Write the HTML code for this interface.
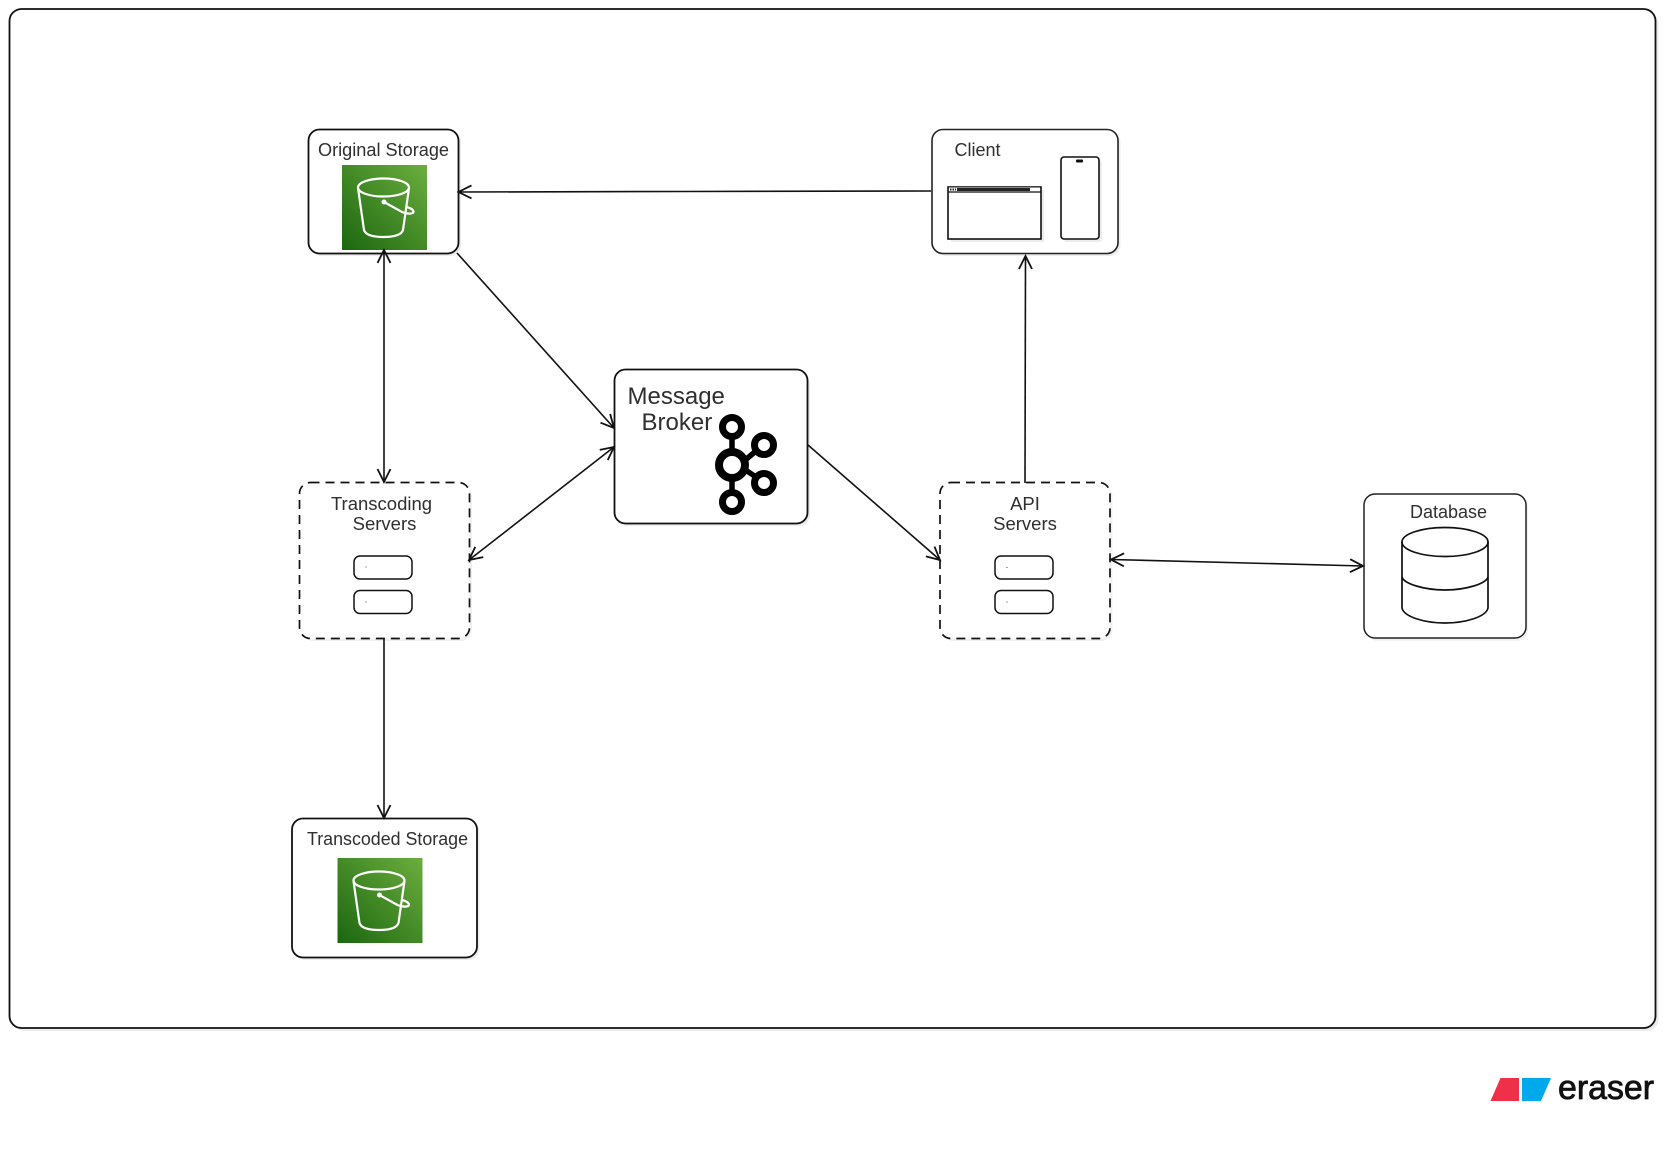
<!DOCTYPE html>
<html>
<head>
<meta charset="utf-8">
<style>
html,body{margin:0;padding:0;background:#fff;}
svg{display:block;}
text{font-family:"Liberation Sans",sans-serif;fill:#2f2f2f;}
</style>
</head>
<body>
<svg width="1665" height="1173" viewBox="0 0 1665 1173" xmlns="http://www.w3.org/2000/svg">
<defs>
<linearGradient id="g" x1="0" y1="1" x2="1" y2="0">
<stop offset="0" stop-color="#1b660f"/>
<stop offset="1" stop-color="#6cae3e"/>
</linearGradient>
<marker id="a" markerUnits="userSpaceOnUse" viewBox="-16 -9 18 18" refX="0" refY="0" markerWidth="18" markerHeight="18" orient="auto-start-reverse">
<path d="M-13 -6.500L0 0L-13 6.500" fill="none" stroke="#111" stroke-width="1.8"/>
</marker>
<g id="bucket">
<rect x="0" y="0" width="85" height="85" fill="url(#g)"/>
<g fill="none" stroke="#fff" stroke-width="2.200">
<ellipse cx="41.500" cy="22.500" rx="25.500" ry="9"/>
<path d="M16 23L22 65C24 71 33 72 41.500 72C50 72 59 71 61 65L67 23"/>
<path d="M42 37L60 47C66 49.500 72 49 71.500 46.500C71 44 67 42.500 64 42"/>
</g>
<circle cx="42" cy="37" r="2.500" fill="#fff"/>
</g>
</defs>

<!-- outer frame -->
<rect x="12.500" y="12" width="1646" height="1019" rx="12" fill="#ececec"/>
<rect x="9.500" y="9" width="1646" height="1019" rx="12" fill="#fff" stroke="#111" stroke-width="1.8"/>

<!-- Original Storage -->
<rect x="311" y="132" width="150" height="124" rx="11" fill="#ececec"/>
<rect x="308.500" y="129.500" width="150" height="124" rx="11" fill="#fff" stroke="#111" stroke-width="1.8"/>
<text x="318" y="156" font-size="18.500" textLength="131" lengthAdjust="spacingAndGlyphs">Original Storage</text>
<use href="#bucket" x="342" y="165"/>

<!-- Client -->
<rect x="934.500" y="132" width="186" height="124" rx="11" fill="#ececec"/>
<rect x="932" y="129.500" width="186" height="124" rx="11" fill="#fff" stroke="#222" stroke-width="1.6"/>
<text x="954.500" y="156" font-size="18">Client</text>
<rect x="951" y="190" width="93" height="52" fill="#ececec"/>
<rect x="948" y="187" width="93" height="52" fill="#fff" stroke="#111" stroke-width="1.6"/>
<rect x="949" y="187.500" width="91" height="4" fill="#fff"/>
<rect x="957" y="188" width="73" height="3" fill="#222"/>
<path d="M948 192H1041" stroke="#111" stroke-width="1.2"/>
<path d="M950 189.500H956" stroke="#222" stroke-width="2" stroke-dasharray="1.500 1"/>
<rect x="1064" y="160" width="38" height="82" rx="3" fill="#ececec"/>
<rect x="1061" y="157" width="38" height="82" rx="3" fill="#fff" stroke="#111" stroke-width="1.6"/>
<rect x="1076" y="159.500" width="7" height="3" rx="1" fill="#111"/>

<!-- Message Broker -->
<rect x="617" y="372" width="193" height="154" rx="11" fill="#ececec"/>
<rect x="614.500" y="369.500" width="193" height="154" rx="11" fill="#fff" stroke="#111" stroke-width="1.8"/>
<text x="627.500" y="404" font-size="24">Message</text>
<text x="641.500" y="430" font-size="24">Broker</text>
<g fill="none" stroke="#000" stroke-width="7">
<path d="M732 437V455M732 476V492M744 461L756 451M744 469L756 477" stroke-width="5.500"/>
<circle cx="732" cy="427" r="9.500"/>
<circle cx="732" cy="465" r="13" stroke-width="8"/>
<circle cx="764" cy="445" r="9.500"/>
<circle cx="764" cy="483" r="9.500"/>
<circle cx="732" cy="502" r="9.500"/>
</g>

<!-- Transcoding Servers -->
<rect x="302" y="485.500" width="170" height="155.500" rx="11" fill="#f0f0f0"/>
<rect x="299.500" y="482.500" width="170" height="156" rx="11" fill="#fff" stroke="#111" stroke-width="1.7" stroke-dasharray="9 6"/>
<text x="381.500" y="510" font-size="18.500" text-anchor="middle">Transcoding</text>
<text x="384.500" y="530" font-size="18.500" text-anchor="middle">Servers</text>
<rect x="354" y="556" width="58" height="23" rx="6" fill="#fff" stroke="#111" stroke-width="1.5"/>
<rect x="354" y="590.500" width="58" height="23" rx="6" fill="#fff" stroke="#111" stroke-width="1.5"/>
<rect x="365.500" y="566.500" width="1" height="1" fill="#444"/>
<rect x="365.500" y="601.500" width="1" height="1" fill="#444"/>

<!-- API Servers -->
<rect x="942.500" y="485.500" width="170" height="155.500" rx="11" fill="#f0f0f0"/>
<rect x="940" y="482.500" width="170" height="156" rx="11" fill="#fff" stroke="#111" stroke-width="1.7" stroke-dasharray="9 6"/>
<text x="1025" y="510" font-size="18.500" text-anchor="middle">API</text>
<text x="1025" y="530" font-size="18.500" text-anchor="middle">Servers</text>
<rect x="995" y="556" width="58" height="23" rx="6" fill="#fff" stroke="#111" stroke-width="1.5"/>
<rect x="995" y="590.500" width="58" height="23" rx="6" fill="#fff" stroke="#111" stroke-width="1.5"/>
<rect x="1006.500" y="567" width="1" height="1" fill="#444"/>
<rect x="1006.500" y="601.500" width="1" height="1" fill="#444"/>

<!-- Database -->
<rect x="1366" y="497" width="162" height="144" rx="11" fill="#f2f2f2"/>
<rect x="1364" y="494" width="162" height="144" rx="11" fill="#fff" stroke="#222" stroke-width="1.5"/>
<text x="1448.500" y="518" font-size="18" text-anchor="middle">Database</text>
<g fill="none" stroke="#111" stroke-width="1.7">
<ellipse cx="1445" cy="542" rx="43" ry="14.500" fill="#fff"/>
<path d="M1402 542V608C1404 617 1425 623 1445 623C1465 623 1486 617 1488 608V542"/>
<path d="M1402 577C1404 584 1425 590 1445 590C1465 590 1486 584 1488 577"/>
</g>

<!-- Transcoded Storage -->
<rect x="294.500" y="821" width="185" height="139" rx="11" fill="#ececec"/>
<rect x="292" y="818.500" width="185" height="139" rx="11" fill="#fff" stroke="#111" stroke-width="1.8"/>
<text x="307" y="845" font-size="18" textLength="161" lengthAdjust="spacingAndGlyphs">Transcoded Storage</text>
<use href="#bucket" x="337.500" y="858"/>

<!-- arrows -->
<g fill="none" stroke="#111" stroke-width="1.6">
<path d="M931 191L680 191.500L458.500 192" marker-end="url(#a)"/>
<path d="M384 250L384 482" marker-start="url(#a)" marker-end="url(#a)"/>
<path d="M457 253L614 428" marker-end="url(#a)"/>
<path d="M469 560L614 447" marker-start="url(#a)" marker-end="url(#a)"/>
<path d="M808 445L940 560" marker-end="url(#a)"/>
<path d="M1025 483L1025.500 256" marker-end="url(#a)"/>
<path d="M1111 559.500L1363 566" marker-start="url(#a)" marker-end="url(#a)"/>
<path d="M384 638L384 818" marker-end="url(#a)"/>
</g>

<!-- eraser logo -->
<path d="M1490.500 1101L1500.500 1078H1519V1101Z" fill="#f03049"/>
<path d="M1522 1078H1551L1541 1101H1522Z" fill="#00a9ec"/>
<text x="1558" y="1099" font-size="34" style="fill:#111;stroke:#111;stroke-width:0.8" textLength="96" lengthAdjust="spacingAndGlyphs">eraser</text>
</svg>
</body>
</html>
